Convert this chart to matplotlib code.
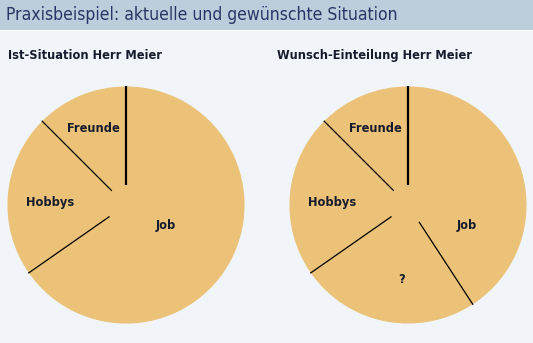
import numpy as np
import matplotlib
matplotlib.use("Agg")
import matplotlib.pyplot as plt
from matplotlib.patches import Rectangle

# Time split, in percent of the week
ist_labels = ["Freunde", "Hobbys", "Job"]
ist_values = [12.5, 22.2, 65.3]

wunsch_labels = ["Freunde", "Hobbys", "?", "Job"]
wunsch_values = [12.5, 22.2, 24.5, 40.8]

title = "Praxisbeispiel: aktuelle und gewünschte Situation"
ist_title = "Ist-Situation Herr Meier"
wunsch_title = "Wunsch-Einteilung Herr Meier"

pie_color = "#ebc278"
bg_color = "#f1f5fa"
head_color = "#bccddc"
text_color = "#161c2e"

W, H = 533, 343
fig = plt.figure(figsize=(W / 100, H / 100), dpi=100)
fig.patch.set_facecolor(bg_color)

# header bar
fig.patches.append(Rectangle((0, (H - 30) / H), 1, 30 / H, transform=fig.transFigure,
                             facecolor=head_color, edgecolor="none", zorder=0))
fig.patches.append(Rectangle((0, (H - 31) / H), 1, 1 / H, transform=fig.transFigure,
                             facecolor="white", edgecolor="none", zorder=0))
fig.text(6 / W, 1 - 15 / H, title, fontsize=12.6, color="#2b3565",
         family="DejaVu Sans", stretch="condensed", va="center", ha="left")

# label placement: (angle in degrees, distance from centre as fraction of radius)
ist_label_pos = [(113, 0.70), (178, 0.64), (-27, 0.38)]
wunsch_label_pos = [(113, 0.70), (178, 0.64), (265, 0.63), (-19, 0.53)]


def draw_pie(left_px, values, labels, label_pos, subtitle, sub_x):
    r = 118
    ax = fig.add_axes([(left_px - r) / W, (H - 205 - r) / H, 2 * r / W, 2 * r / H])
    ax.pie(values, colors=[pie_color] * len(values), startangle=90,
           counterclock=True, radius=1.0,
           wedgeprops=dict(linewidth=0.8, edgecolor=pie_color))
    ax.set_xlim(-1, 1)
    ax.set_ylim(-1, 1)
    ax.set_aspect("equal")
    ax.axis("off")

    # dividing lines between the slices, not reaching the centre
    bounds = 90 + 360 * np.cumsum([0] + values[:-1]) / 100.0
    for i, a in enumerate(bounds):
        t = np.deg2rad(a)
        lw = 1.6 if i == 0 else 0.9
        ax.plot([0.17 * np.cos(t), 1.01 * np.cos(t)],
                [0.17 * np.sin(t), 1.01 * np.sin(t)],
                color="black", lw=lw, solid_capstyle="butt", clip_on=False)

    for lab, (a, d) in zip(labels, label_pos):
        t = np.deg2rad(a)
        ax.text(d * np.cos(t), d * np.sin(t), lab, ha="center", va="center",
                fontsize=9.2, fontweight="bold", stretch="condensed",
                color=text_color, family="DejaVu Sans")

    fig.text(sub_x / W, 1 - 59 / H, subtitle, ha="left", va="baseline",
             fontsize=9.2, fontweight="bold", stretch="condensed",
             color=text_color, family="DejaVu Sans")


draw_pie(126, ist_values, ist_labels, ist_label_pos, ist_title, 8)
draw_pie(408, wunsch_values, wunsch_labels, wunsch_label_pos, wunsch_title, 277)

fig.savefig("out.png", dpi=100, facecolor=fig.get_facecolor())
